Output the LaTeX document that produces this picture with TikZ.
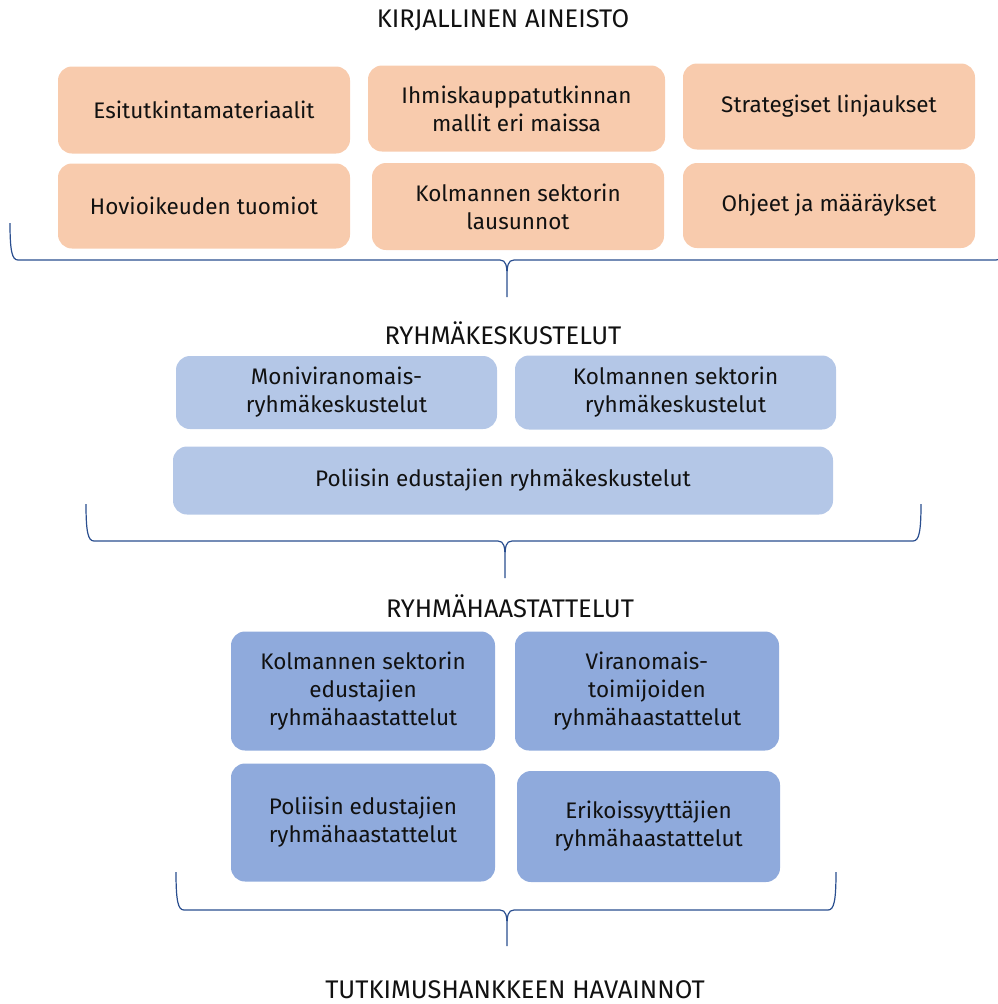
\documentclass[tikz,border=0pt]{standalone}
\usepackage{fontspec}
\setmainfont{Fira Sans}
\definecolor{peach}{HTML}{F8CBAD}
\definecolor{paleblue}{HTML}{B4C7E7}
\definecolor{midblue}{HTML}{8FAADC}
\definecolor{braceblue}{HTML}{2A4E8F}
\definecolor{ink}{HTML}{111111}
% curly bracket: left x, right x, middle x, top of arms, bar level, tip
\newcommand\groupbrace[6]{%
  \draw[bracket] (#1,#4) .. controls (#1,{#5-9}) and ({#1+2},#5) .. ({#1+8},#5)
    -- ({#3-7},#5) .. controls ({#3-1},#5) and (#3,{#5+6}) .. (#3,{#5+16})
    -- (#3,#6) -- (#3,{#5+16})
    .. controls (#3,{#5+6}) and ({#3+1},#5) .. ({#3+7},#5)
    -- ({#2-8},#5) .. controls ({#2-2},#5) and (#2,{#5-9}) .. (#2,#4);}
\begin{document}
\begin{tikzpicture}[x=1pt,y=-1pt,
  every node/.style={font=\fontsize{22.5}{28}\selectfont, text=ink, align=center},
  card/.style={rounded corners=14pt, inner sep=0pt},
  doc/.style={card, fill=peach},
  talk/.style={card, fill=paleblue},
  interview/.style={card, fill=midblue},
  heading/.style={inner sep=0pt, font=\fontsize{25.5}{28}\selectfont},
  bracket/.style={draw=braceblue, line width=1.2pt}]
\useasboundingbox (0,0) rectangle (998,1004);
\clip (0,0) rectangle (998,1004);

% written material
\node[heading] (t1) at (503,20) {KIRJALLINEN AINEISTO};
\node[doc, minimum width=292pt, minimum height=87pt] (e1) at (204,110) {Esitutkintamateriaalit};
\node[doc, minimum width=297pt, minimum height=86pt] (e2) at (516.5,108.5) {Ihmiskauppatutkinnan\\mallit eri maissa};
\node[doc, minimum width=292pt, minimum height=86pt] (e3) at (829,106.5) {Strategiset linjaukset};
\node[doc, minimum width=292pt, minimum height=85pt] (e4) at (204,206) {Hovioikeuden tuomiot};
\node[doc, minimum width=292pt, minimum height=87pt] (e5) at (518,206.5) {Kolmannen sektorin\\lausunnot};
\node[doc, minimum width=292pt, minimum height=85pt] (e6) at (829,205.5) {Ohjeet ja määräykset};
\groupbrace{10}{1004}{507}{223}{260}{297}

% group discussions
\node[heading] (t2) at (503,333) {RYHMÄKESKUSTELUT};
\node[talk, minimum width=321pt, minimum height=73pt] (b1) at (336.5,392.5) {Moniviranomais-\\ryhmäkeskustelut};
\node[talk, minimum width=321pt, minimum height=74pt] (b2) at (675.5,392.5) {Kolmannen sektorin\\ryhmäkeskustelut};
\node[talk, minimum width=660pt, minimum height=68pt] (b3) at (503,480.5) {Poliisin edustajien ryhmäkeskustelut};
\groupbrace{86}{921}{505}{504}{541}{578}

% group interviews
\node[heading] (t3) at (510,606) {RYHMÄHAASTATTELUT};
\node[interview, minimum width=264pt, minimum height=119pt] (d1) at (363,691) {Kolmannen sektorin\\edustajien\\ryhmähaastattelut};
\node[interview, minimum width=264pt, minimum height=119pt] (d2) at (647,691) {Viranomais-\\toimijoiden\\ryhmähaastattelut};
\node[interview, minimum width=264pt, minimum height=118pt] (d3) at (363,822.5) {Poliisin edustajien\\ryhmähaastattelut};
\node[interview, minimum width=263pt, minimum height=111pt] (d4) at (648.5,826.5) {Erikoissyyttäjien\\ryhmähaastattelut};
\groupbrace{176}{836}{507}{872}{910}{946}

% findings
\node[heading] (t4) at (515,990) {TUTKIMUSHANKKEEN HAVAINNOT};
\end{tikzpicture}
\end{document}
